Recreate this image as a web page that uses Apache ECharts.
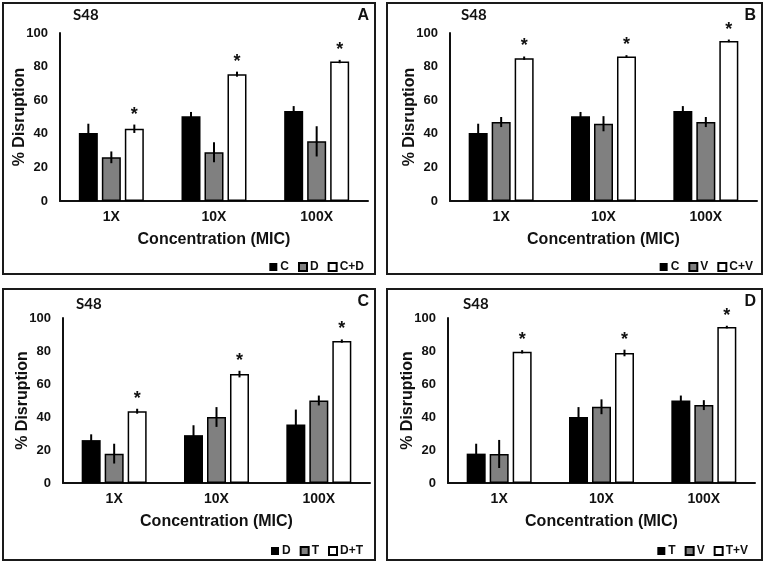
<!DOCTYPE html>
<html>
<head>
<meta charset="utf-8">
<script src="https://cdn.jsdelivr.net/npm/echarts@6/dist/echarts.min.js"></script>
<style>
html,body{margin:0;padding:0;background:#fff;}
#chart{width:764px;height:563px;}
</style>
</head>
<body>
<div id="chart"></div>
<script>
// ---- data ----
const categories = ['1X', '10X', '100X'];
const yTicks = [0, 20, 40, 60, 80, 100];
const strain = 'S48';
const xTitle = 'Concentration (MIC)';
const yTitle = '% Disruption';

const C_val = [40.5, 50.5, 53.5];    const C_err = [5.5, 2.5, 3];
const D_val = [26, 29, 35.5];        const D_err = [3.5, 6, 9];
const V_B_val = [47, 46, 47];        const V_B_err = [3, 4.5, 3];
const T_val = [17.8, 40, 50];        const T_err = [6, 6, 3];
const V_D_val = [17.6, 46.2, 47.2];  const V_D_err = [8.5, 4.5, 3];
const CD_val = [43, 75.5, 83];       const CD_err = [2.5, 1.5, 1];
const CV_val = [85, 86, 95.3];       const CV_err = [1, 0.8, 0.8];
const DT_val = [43.5, 66, 86];       const DT_err = [1.5, 2, 1];
const TV_val = [79.5, 78.8, 94.5];   const TV_err = [1, 2, 0.8];

// ---- layout / style ----
const BLACK = '#000000', GRAY = '#808080', WHITE = '#ffffff';
const BAR_W = 19, BAR_GAP = 0.21;
const FONT = 'Liberation Sans, Arial, sans-serif';

const panels = [
  { letter: 'A', box: [3, 3, 372, 271], grid: { left: 60, top: 33, width: 308, height: 168 },
    title: [73, 8], legend: { right: 395, top: 256 },
    series: [['C', C_val, C_err, BLACK, false], ['D', D_val, D_err, GRAY, false], ['C+D', CD_val, CD_err, WHITE, true]] },
  { letter: 'B', box: [387, 3, 375, 271], grid: { left: 450, top: 33, width: 307, height: 168 },
    title: [461, 8], legend: { right: 6, top: 256 },
    series: [['C', C_val, C_err, BLACK, false], ['V', V_B_val, V_B_err, GRAY, false], ['C+V', CV_val, CV_err, WHITE, true]] },
  { letter: 'C', box: [3, 289, 372, 271], grid: { left: 63, top: 318, width: 307, height: 165 },
    title: [76, 297], legend: { right: 396, top: 540 },
    series: [['D', D_val, D_err, BLACK, false], ['T', T_val, T_err, GRAY, false], ['D+T', DT_val, DT_err, WHITE, true]] },
  { letter: 'D', box: [387, 289, 375, 271], grid: { left: 448, top: 318, width: 307, height: 165 },
    title: [463, 297], legend: { right: 11, top: 540 },
    series: [['T', T_val, T_err, BLACK, false], ['V', V_D_val, V_D_err, GRAY, false], ['T+V', TV_val, TV_err, WHITE, true]] }
];

const option = { animation: false, grid: [], xAxis: [], yAxis: [], series: [], legend: [], title: [], graphic: [] };

panels.forEach((p, pi) => {
  option.grid.push(p.grid);
  option.xAxis.push({
    type: 'category', gridIndex: pi, data: categories,
    axisLine: { lineStyle: { color: '#111', width: 2 } },
    axisTick: { show: false },
    axisLabel: { fontFamily: FONT, fontWeight: 'bold', fontSize: 14, color: '#111', margin: 9 },
    name: xTitle, nameLocation: 'middle', nameGap: 31, nameMoveOverlap: false,
    nameTextStyle: { fontFamily: FONT, fontWeight: 'bold', fontSize: 16, color: '#111' }
  });
  option.yAxis.push({
    type: 'value', gridIndex: pi, min: yTicks[0], max: yTicks[yTicks.length - 1], interval: 20,
    axisLine: { show: true, lineStyle: { color: '#111', width: 2 } },
    axisTick: { show: false }, splitLine: { show: false },
    axisLabel: { fontFamily: FONT, fontWeight: 'bold', fontSize: 13, color: '#111', margin: 12 },
    name: yTitle, nameLocation: 'middle', nameGap: 32, nameMoveOverlap: false,
    nameTextStyle: { fontFamily: FONT, fontWeight: 'bold', fontSize: 16, color: '#111' }
  });
  const names = [];
  p.series.forEach((s, k) => {
    const nm = p.letter + '|' + s[0];
    names.push(nm);
    option.series.push({
      type: 'bar', name: nm, xAxisIndex: pi, yAxisIndex: pi,
      data: s[1], barWidth: BAR_W, barGap: (BAR_GAP * 100) + '%',
      itemStyle: { color: s[3], borderColor: '#000', borderWidth: s[3] === BLACK ? 0 : 1.5 },
      emphasis: { disabled: true }
    });
  });
  p.series.forEach((s, k) => {
    const vals = s[1], errs = s[2], star = s[4];
    option.series.push({
      type: 'custom', xAxisIndex: pi, yAxisIndex: pi, z: 5,
      data: categories.map((c, i) => [i, vals[i], errs[i]]),
      renderItem: function (params, api) {
        const i = api.value(0), v = api.value(1), e = api.value(2);
        const top = api.coord([i, v + e]);
        const bot = api.coord([i, v - e]);
        const dx = (k - 1) * (BAR_W * (1 + BAR_GAP));
        const x = top[0] + dx;
        const children = [{
          type: 'line',
          shape: { x1: x, y1: top[1], x2: x, y2: bot[1] },
          style: { stroke: '#000', lineWidth: 2 }
        }];
        if (star) {
          children.push({
            type: 'text', x: x, y: top[1] - 1,
            style: { text: '*', font: 'bold 18px ' + FONT, fill: '#111', align: 'center', verticalAlign: 'bottom' }
          });
        }
        return { type: 'group', children: children };
      }
    });
  });
  option.legend.push({
    data: names, right: p.legend.right, top: p.legend.top,
    icon: 'rect', itemWidth: 8, itemHeight: 8, itemGap: 9,
    selectedMode: false,
    formatter: n => n.split('|')[1],
    textStyle: { fontFamily: FONT, fontWeight: 'bold', fontSize: 12, color: '#111', padding: [0, 0, 0, -2] }
  });
  option.title.push({
    text: strain, left: p.title[0], top: p.title[1], padding: 0,
    textStyle: { fontFamily: 'Lato, Open Sans, sans-serif', fontWeight: 'bold', fontSize: 15, color: '#111' }
  });
  option.graphic.push({
    type: 'rect', shape: { x: p.box[0], y: p.box[1], width: p.box[2], height: p.box[3] },
    style: { fill: 'none', stroke: '#1a1a1a', lineWidth: 2 }, silent: true
  });
  option.graphic.push({
    type: 'text', x: p.box[0] + p.box[2] - 6, y: p.box[1] + 5,
    style: { text: p.letter, font: 'bold 16px ' + FONT, fill: '#111', align: 'right', verticalAlign: 'top' },
    silent: true
  });
});

const chart = echarts.init(document.getElementById('chart'), null, { renderer: 'canvas' });
chart.setOption(option);
</script>
</body>
</html>
